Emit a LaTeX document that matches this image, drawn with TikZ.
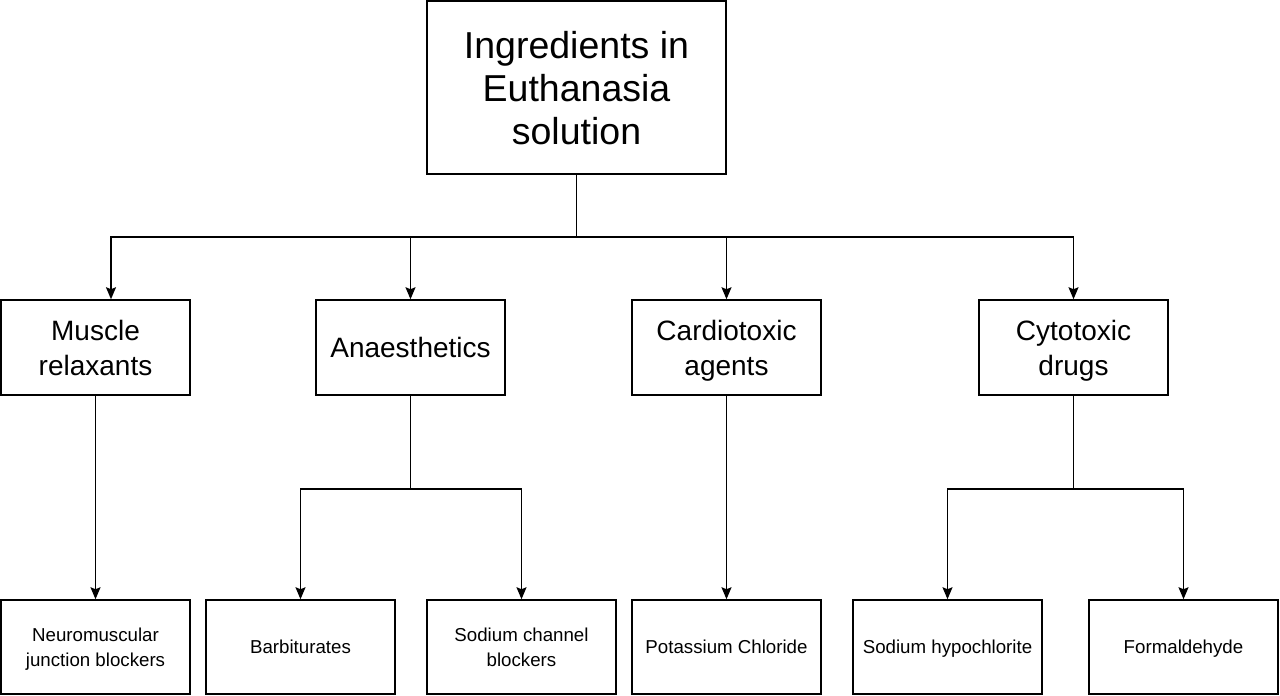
\documentclass[tikz,border=0pt]{standalone}
\usepackage{fontspec}
\setmainfont{Liberation Sans}
\usetikzlibrary{arrows.meta,positioning}

\begin{document}
\begin{tikzpicture}[
  x=1pt, y=-1pt,
  every node/.style={align=center, inner sep=0pt, text depth=0pt},
  root/.style={rectangle, draw, line width=1.5pt, minimum width=299pt,
    minimum height=173pt, font=\fontsize{37.5}{43}\selectfont},
  group/.style={rectangle, draw, line width=1.5pt, minimum width=189pt,
    minimum height=95pt, font=\fontsize{28}{35}\selectfont},
  leaf/.style={rectangle, draw, line width=1.5pt, minimum width=189pt,
    minimum height=94pt, font=\fontsize{18.7}{25}\selectfont},
  arrow/.style={-{Stealth[length=12pt, width=10pt, inset=2pt]}, line width=1.5pt},
  link/.style={line width=1.5pt}
]
  \useasboundingbox (0,0) rectangle (1280,696);

  % top
  \node[root] (ingr) at (576.5,87.5) {Ingredients in\\Euthanasia\\solution};

  % groups
  \node[group] (muscle) at (95.5,347.5) {Muscle\\relaxants};
  \node[group] (anaes) at (410.5,347.5) {Anaesthetics};
  \node[group] (cardio) at (726.5,347.5) {Cardiotoxic\\agents};
  \node[group] (cyto) at (1073.5,347.5) {Cytotoxic\\drugs};

  % leaves
  \node[leaf] (nmj) at (95.5,647) {Neuromuscular\\junction blockers};
  \node[leaf] (barb) at (300.5,647) {Barbiturates};
  \node[leaf] (sodch) at (521.5,647) {Sodium channel\\blockers};
  \node[leaf] (kcl) at (726.5,647) {Potassium Chloride};
  \node[leaf] (hypo) at (947.5,647) {Sodium hypochlorite};
  \node[leaf] (form) at (1183.5,647) {Formaldehyde};

  \coordinate (busTop) at (576.5,237);
  \coordinate (busAnaes) at (410.5,489);
  \coordinate (busCyto) at (1073.5,489);

  \draw[link] (ingr.south) -- (busTop);
  \draw[arrow] (busTop) -| ([xshift=15.5pt]muscle.north);
  \draw[arrow] (busTop) -| (anaes.north);
  \draw[arrow] (busTop) -| (cardio.north);
  \draw[arrow] (busTop) -| (cyto.north);

  \draw[arrow] (muscle.south) -- (nmj.north);
  \draw[link] (anaes.south) -- (busAnaes);
  \draw[arrow] (busAnaes) -| (barb.north);
  \draw[arrow] (busAnaes) -| (sodch.north);
  \draw[arrow] (cardio.south) -- (kcl.north);
  \draw[link] (cyto.south) -- (busCyto);
  \draw[arrow] (busCyto) -| (hypo.north);
  \draw[arrow] (busCyto) -| (form.north);
\end{tikzpicture}
\end{document}
